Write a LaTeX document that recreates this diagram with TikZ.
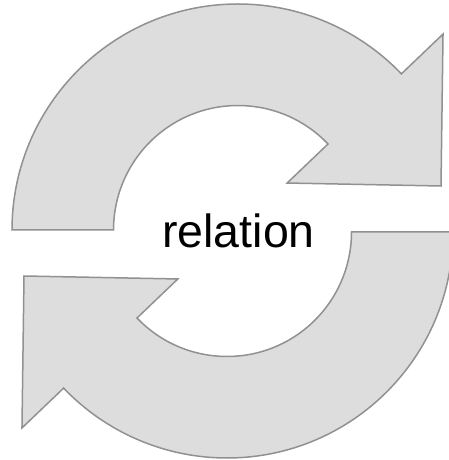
\documentclass[tikz,border=0pt]{standalone}
\usepackage{fontspec}
\setmainfont{Liberation Sans}
\tikzset{
  arrowshape/.style={fill=arrowfill, draw=arrowline, line width=1.5pt, line join=miter},
}
\definecolor{arrowfill}{RGB}{221,221,221}
\definecolor{arrowline}{RGB}{145,145,145}
\begin{document}
\begin{tikzpicture}[x=1pt,y=1pt]
\useasboundingbox (0,0) rectangle (448,460);
% top arrow, centre (238,230)
\begin{scope}[shift={(238,230)}]
  \draw[arrowshape] (180:226) arc[start angle=180, end angle=43.7, radius=226]
    -- (43.7:283.6) -- (203,44) -- (43.7:68)
    -- (43.7:124.5) arc[start angle=43.7, end angle=180, radius=124.5] -- cycle;
\end{scope}
% bottom arrow, centre (227,228), rotated
\begin{scope}[shift={(227,228)}, rotate=180]
  \draw[arrowshape] (180:226) arc[start angle=180, end angle=43.7, radius=226]
    -- (43.7:283.6) -- (203,44) -- (43.7:68)
    -- (43.7:124.5) arc[start angle=43.7, end angle=180, radius=124.5] -- cycle;
\end{scope}
\node[font=\fontsize{46.5}{52}\selectfont, inner sep=0pt, anchor=base] (rel) at (238.5,212) {relation};
\end{tikzpicture}
\end{document}
